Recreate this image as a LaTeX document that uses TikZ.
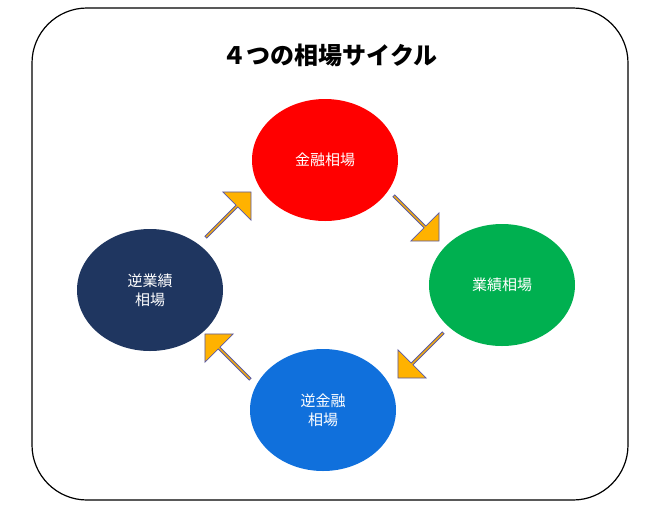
\documentclass[tikz,border=0pt]{standalone}
\usepackage{fontspec}
\setmainfont{Noto Sans CJK JP}
\usetikzlibrary{shapes.arrows}
\tikzset{
  phase/.style={ellipse, minimum width=146pt, minimum height=122pt, text=white, font=\fontsize{15}{19}\selectfont, align=center, inner sep=0pt},
  flow/.style={single arrow, fill=orange!60!yellow, draw=gray!70!blue, line width=0.8pt,
    minimum height=64pt, minimum width=40pt, single arrow head extend=6pt, inner sep=0pt, anchor=center}
}
\usetikzlibrary{shapes.geometric}
\begin{document}
\begin{tikzpicture}[x=1pt,y=-1pt]
    \useasboundingbox (0,0) rectangle (649,523);
    \draw[line width=1.2pt,rounded corners=55pt] (32,8) rectangle (628,500);
    \node[font=\fontsize{24}{28}\selectfont\bfseries] (title) at (330,55) {４つの相場サイクル};
    \node[phase,fill=red] (kinyu) at (325,160) {金融相場};
    \node[phase,fill={rgb,255:red,0;green,176;blue,80}] (gyoseki) at (502,285) {業績相場};
    \node[phase,fill={rgb,255:red,16;green,112;blue,220}] (gyakukinyu) at (323,410) {逆金融\\相場};
    \node[phase,fill={rgb,255:red,31;green,54;blue,96}] (gyakugyoseki) at (150,290) {逆業績\\相場};
    \node[flow,rotate=45] (a1) at (228,215) {};
    \node[flow,rotate=-45] (a2) at (416,218) {};
    \node[flow,rotate=-135] (a3) at (421,355) {};
    \node[flow,rotate=135] (a4) at (228,357) {};
\end{tikzpicture}
\end{document}
